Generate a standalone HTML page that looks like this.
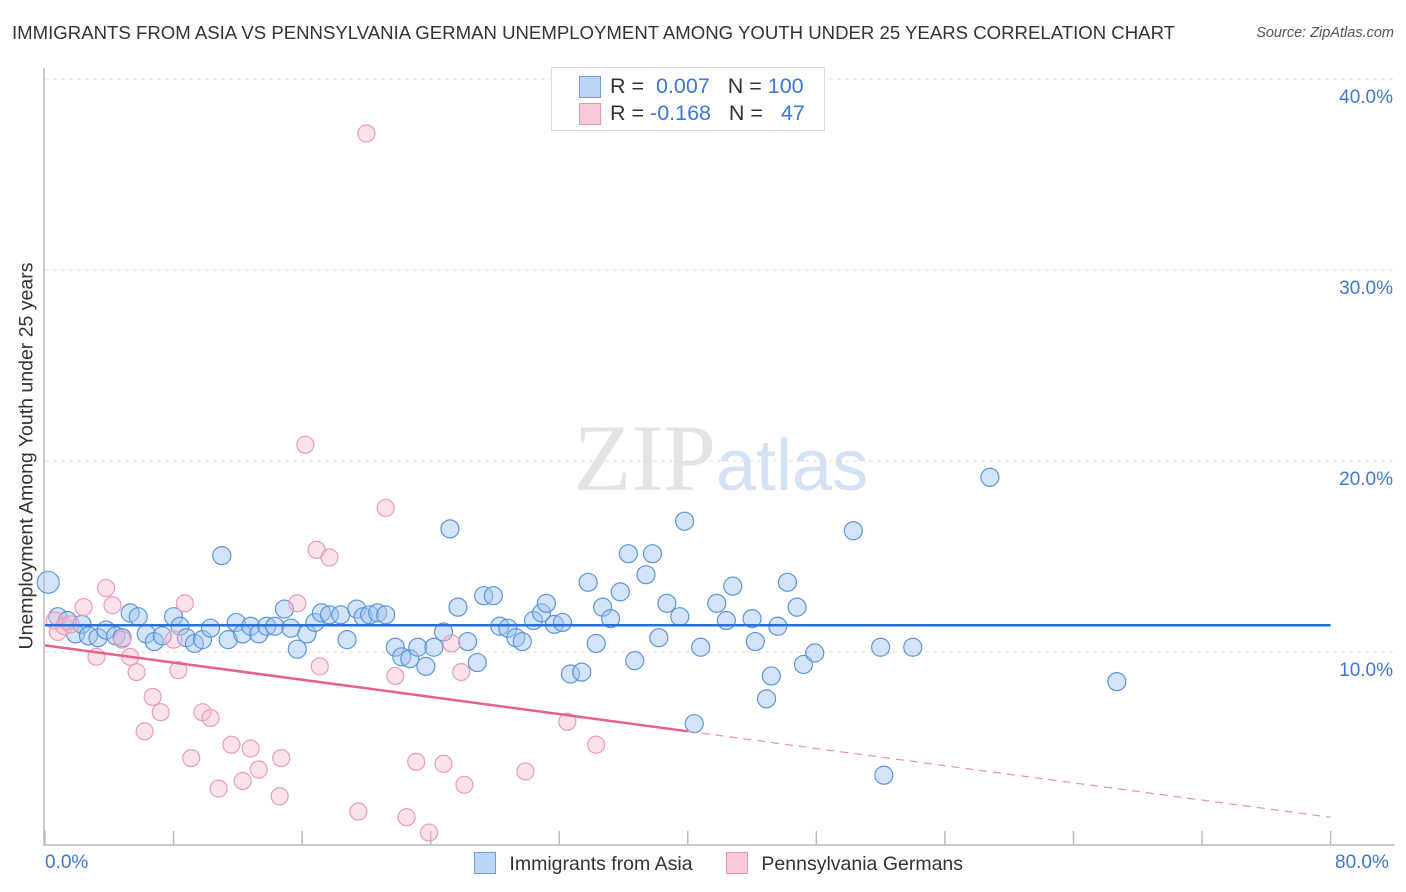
<!DOCTYPE html>
<html><head><meta charset="utf-8"><style>
body{margin:0;background:#fff;font-family:"Liberation Sans",sans-serif;}
#wrap{position:relative;width:1406px;height:892px;overflow:hidden;}
.t{position:absolute;white-space:nowrap;}
</style></head><body>
<div id="wrap">
<div class="t" style="left:12px;top:22px;font-size:18.6px;color:#333;">IMMIGRANTS FROM ASIA VS PENNSYLVANIA GERMAN UNEMPLOYMENT AMONG YOUTH UNDER 25 YEARS CORRELATION CHART</div>
<div class="t" style="right:12px;top:25px;font-size:14.5px;color:#555;font-style:italic;">Source: ZipAtlas.com</div>
<div class="t" style="left:27px;top:456px;font-size:19.5px;color:#333;transform:translate(-50%,-50%) rotate(-90deg);">Unemployment Among Youth under 25 years</div>
<svg id="svg" width="1406" height="892" style="position:absolute;left:0;top:0">
<text x="716" y="490" font-size="95" font-family="Liberation Serif" fill="#e4e4e4" text-anchor="end">ZIP</text>
<text x="716" y="490" font-size="72" font-family="Liberation Sans" fill="#d3e2f4">atlas</text>
<g id="grid"></g><g id="pts"></g><g id="lines"></g>
</svg>
<div style="position:absolute;left:551px;top:67px;width:272px;height:62px;border:1px solid #ddd;background:#fff;font-size:21.5px;">
<div style="position:absolute;left:27px;top:8px;width:20px;height:20px;background:#bcd4f5;border:1px solid #6a9ee0;"></div>
<div class="t" style="left:58px;top:6px;color:#333;">R = <span style="color:#3b78d6">&nbsp;0.007</span>&nbsp;&nbsp;&nbsp;N = <span style="color:#3b78d6">100</span></div>
<div style="position:absolute;left:27px;top:35px;width:20px;height:20px;background:#f9c9d7;border:1px solid #ea95b1;"></div>
<div class="t" style="left:58px;top:33px;color:#333;">R = <span style="color:#3b78d6">-0.168</span>&nbsp;&nbsp;&nbsp;N = <span style="color:#3b78d6">&nbsp;&nbsp;47</span></div>
</div>
<div class="t" style="left:45px;top:852px;font-size:19px;color:#3b78d6;">0.0%</div>
<div class="t" style="left:1335px;top:852px;font-size:19px;color:#3b78d6;">80.0%</div>
<div style="position:absolute;left:474px;top:852px;font-size:19.5px;color:#333;">
<span style="display:inline-block;width:20px;height:20px;background:#bcd4f5;border:1px solid #6a9ee0;vertical-align:-4px;"></span>
<span style="margin-left:8px;">Immigrants from Asia</span>
<span style="display:inline-block;width:20px;height:20px;background:#f9c9d7;border:1px solid #ea95b1;vertical-align:-4px;margin-left:28px;"></span>
<span style="margin-left:8px;">Pennsylvania Germans</span>
</div>
</div>
<script>
const yTicks=[10,20,30,40];
const yTickLabels=["10.0%","20.0%","30.0%","40.0%"];
const xTicks=[0,8,16,24,32,40,48,56,64,72,80];
const asiaX=[0.2,0.8,1.4,1.9,2.3,2.7,3.3,3.8,4.4,4.8,5.3,5.8,6.3,6.8,7.3,8.0,8.4,8.8,9.3,9.8,10.3,11.0,11.4,11.9,12.3,12.8,13.3,13.8,14.3,14.9,15.3,15.7,16.3,16.8,17.2,17.7,18.4,18.8,19.4,19.8,20.2,20.7,21.2,21.8,22.2,22.7,23.2,23.7,24.2,24.8,25.2,25.7,26.3,26.9,27.3,27.9,28.3,28.8,29.3,29.7,30.4,30.9,31.2,31.7,32.2,32.7,33.4,33.8,34.3,34.7,35.2,35.8,36.3,36.7,37.4,37.8,38.2,38.7,39.5,39.8,40.4,40.8,41.8,42.4,42.8,44.0,44.2,44.9,45.2,45.6,46.2,46.8,47.2,47.9,50.3,52.0,52.2,54.0,58.8,66.7];
const asiaY=[13.7,11.9,11.7,11.0,11.5,10.9,10.8,11.2,10.9,10.8,12.1,11.9,11.0,10.6,10.9,11.9,11.4,10.8,10.5,10.7,11.3,15.1,10.7,11.6,11.0,11.4,11.0,11.4,11.4,12.3,11.3,10.2,11.0,11.6,12.1,12.0,12.0,10.7,12.3,11.9,12.0,12.1,12.0,10.3,9.8,9.7,10.3,9.3,10.3,11.1,16.5,12.4,10.6,9.5,13.0,13.0,11.4,11.3,10.8,10.6,11.7,12.1,12.6,11.5,11.6,8.9,9.0,13.7,10.5,12.4,11.8,13.2,15.2,9.6,14.1,15.2,10.8,12.6,11.9,16.9,6.3,10.3,12.6,11.7,13.5,11.8,10.6,7.6,8.8,11.4,13.7,12.4,9.4,10.0,16.4,10.3,3.6,10.3,19.2,8.5];
const paX=[0.6,0.8,1.2,1.6,2.4,3.2,3.8,4.2,4.8,5.3,5.7,6.2,6.7,7.2,8.0,8.3,8.7,9.1,9.8,10.3,10.8,11.6,12.3,12.8,13.3,14.6,14.7,15.7,16.2,16.9,17.1,17.7,19.5,20.0,21.2,21.8,22.5,23.1,23.9,24.8,25.3,25.9,26.1,29.9,32.5,34.3];
const paY=[11.7,11.1,11.4,11.5,12.4,9.8,13.4,12.5,10.7,9.8,9.0,5.9,7.7,6.9,10.7,9.1,12.6,4.5,6.9,6.6,2.9,5.2,3.3,5.0,3.9,2.5,4.5,12.6,20.9,15.4,9.3,15.0,1.7,37.2,17.6,8.8,1.4,4.3,0.6,4.2,10.5,9.0,3.1,3.8,6.4,5.2];
const asiaTrend=[11.45,0];
const paTrend=[10.4,-0.1125];
const ns="http://www.w3.org/2000/svg";
const X=v=>45+v*16.07, Y=v=>844-v*19.1;
function mk(tag,attrs,parent){const e=document.createElementNS(ns,tag);for(const k in attrs)e.setAttribute(k,attrs[k]);parent.appendChild(e);return e;}
const grid=document.getElementById('grid'),pts=document.getElementById('pts'),lines=document.getElementById('lines');
yTicks.forEach((t,i)=>{
 const l=mk('line',{x1:45,x2:1395,y1:Y(t)-1,y2:Y(t)-1,stroke:'#ddd','stroke-dasharray':'4,4'},grid);
 
 
 const tx=mk('text',{x:1393,y:Y(t)+23,'text-anchor':'end','font-size':19,fill:'#3b78d6','font-family':'Liberation Sans'},grid);
 tx.textContent=yTickLabels[i];
 
 
});
const ax=mk('path',{d:'M44,68V845H1395',stroke:'#bbb',fill:'none','stroke-width':1.5},grid);


xTicks.forEach(t=>{
 const tk=mk('line',{x1:X(t),x2:X(t),y1:831,y2:845,stroke:'#bbb','stroke-width':1.5},grid);
 
 
});
asiaX.forEach((v,i)=>{
 const c=mk('circle',{cx:X(v),cy:Y(asiaY[i]),r:i===0?11:9,fill:'rgba(160,195,240,0.45)',stroke:'#5d95db','stroke-width':1.2},pts);
 
 
});
paX.forEach((v,i)=>{
 const c=mk('circle',{cx:X(v),cy:Y(paY[i]),r:8.5,fill:'rgba(248,185,205,0.4)',stroke:'#ec9bb6','stroke-width':1.2},pts);
 
 
});
const bl=mk('line',{x1:X(0),x2:X(80),y1:Y(asiaTrend[0]),y2:Y(asiaTrend[0]+asiaTrend[1]*80),stroke:'#2a6fd6','stroke-width':2.5},lines);


const pl=mk('line',{x1:X(0),x2:X(40),y1:Y(paTrend[0]),y2:Y(paTrend[0]+paTrend[1]*40),stroke:'#e8608c','stroke-width':2.5},lines);


const pd=mk('line',{x1:X(40),x2:X(80),y1:Y(paTrend[0]+paTrend[1]*40),y2:Y(paTrend[0]+paTrend[1]*80),stroke:'#ec8fae','stroke-width':1.2,'stroke-dasharray':'8,6'},lines);


</script>
</body></html>
